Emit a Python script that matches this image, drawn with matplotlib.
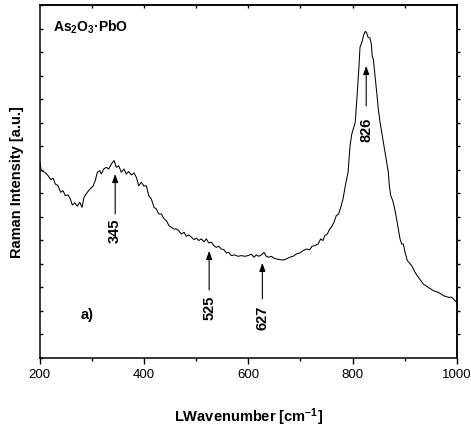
import matplotlib
matplotlib.use("Agg")
import matplotlib.pyplot as plt
from matplotlib.ticker import MultipleLocator, NullFormatter

plt.rcParams["font.family"] = ["Liberation Sans", "DejaVu Sans"]
plt.rcParams["mathtext.fontset"] = "custom"
plt.rcParams["mathtext.rm"] = "Liberation Sans:bold"
plt.rcParams["mathtext.bf"] = "Liberation Sans:bold"
plt.rcParams["mathtext.default"] = "bf"

# Raman spectrum of As2O3·PbO glass (wavenumber in cm^-1, intensity in a.u.)
wavenumber = [200.4, 203.4, 210.0, 216.3, 221.5, 225.9, 230.3, 235.4, 240.6, 245.0,
              249.4, 254.6, 259.0, 262.9, 267.5, 272.4, 277.0, 281.4, 285.3, 291.6,
              298.1, 302.5, 306.9, 310.8, 315.4, 318.4, 323.0, 328.0, 332.6, 337.6,
              342.8, 347.2, 351.8, 356.7, 361.9, 366.3, 370.9, 375.9, 381.1, 385.5,
              390.1, 395.1, 400.2, 404.7, 409.2, 414.2, 419.4, 423.8, 428.4, 433.4,
              438.6, 443.0, 448.1, 452.6, 457.7, 462.1, 466.7, 471.7, 476.9, 481.3,
              485.9, 490.9, 496.1, 500.5, 505.1, 510.0, 515.2, 519.6, 524.2, 529.2,
              534.4, 538.8, 543.4, 548.4, 553.5, 558.0, 562.5, 567.5, 574.0, 580.4,
              586.7, 593.2, 599.5, 605.9, 611.0, 615.4, 620.0, 625.0, 630.2, 634.6,
              639.2, 644.2, 649.3, 653.8, 660.3, 666.6, 672.9, 679.4, 685.8, 692.1,
              698.6, 704.9, 711.3, 717.8, 722.2, 727.3, 733.7, 738.8, 743.2, 746.5,
              751.5, 756.1, 759.1, 764.3, 768.7, 773.3, 777.2, 781.6, 786.0, 791.2,
              795.0, 798.2, 801.3, 805.0, 809.0, 812.2, 814.1, 818.0, 821.2, 824.3,
              827.0, 829.5, 833.3, 835.8, 837.7, 839.6, 842.9, 846.1, 849.2, 852.5,
              855.7, 858.8, 862.0, 865.3, 868.4, 870.3, 873.0, 876.8, 879.3, 883.1,
              887.5, 890.8, 894.0, 897.1, 900.4, 904.8, 913.2, 919.5, 925.9, 935.4,
              945.0, 954.6, 964.2, 973.8, 983.3, 989.9, 998.1, 1000.0]
intensity = [8.32, 7.96, 7.89, 7.75, 7.58, 7.64, 7.39, 7.32, 7.04, 7.11,
             6.90, 6.93, 6.76, 6.50, 6.59, 6.45, 6.62, 6.40, 6.83, 7.04,
             7.21, 7.30, 7.54, 7.89, 7.96, 7.82, 8.03, 8.10, 8.03, 8.24,
             8.39, 8.10, 8.17, 7.89, 8.03, 7.82, 7.92, 7.78, 7.86, 7.68,
             7.32, 7.47, 7.30, 7.32, 6.90, 6.76, 6.40, 6.33, 6.12, 6.12,
             5.91, 5.84, 5.62, 5.55, 5.48, 5.48, 5.41, 5.27, 5.34, 5.17,
             5.23, 5.13, 5.03, 5.09, 4.99, 5.06, 4.94, 5.06, 4.89, 4.92,
             4.77, 4.70, 4.75, 4.63, 4.60, 4.46, 4.49, 4.35, 4.38, 4.32,
             4.35, 4.32, 4.35, 4.41, 4.28, 4.38, 4.32, 4.38, 4.49, 4.32,
             4.28, 4.32, 4.24, 4.21, 4.18, 4.16, 4.21, 4.28, 4.32, 4.42,
             4.46, 4.56, 4.63, 4.60, 4.75, 4.77, 4.84, 5.06, 4.99, 5.20,
             5.27, 5.48, 5.55, 5.77, 6.05, 6.12, 6.40, 6.76, 7.32, 7.89,
             9.00, 9.50, 9.73, 10.02, 11.29, 12.42, 13.20, 13.44, 13.73, 13.88,
             13.81, 13.63, 13.59, 13.34, 12.78, 12.71, 12.00, 11.29, 10.58, 10.02,
             9.59, 9.17, 8.74, 8.32, 7.89, 7.32, 6.90, 6.69, 6.47, 6.05,
             5.48, 5.06, 4.84, 4.84, 4.49, 4.14, 3.92, 3.64, 3.43, 3.14,
             3.00, 2.86, 2.79, 2.65, 2.58, 2.58, 2.39, 2.35]

# Assigned band positions with arrow tip / tail heights and label centre heights
band_pos = [345, 525, 627, 826]
arrow_tip = [7.82, 4.55, 4.04, 12.41]
arrow_tail = [6.12, 2.89, 2.51, 10.71]
label_y = [5.44, 2.17, 1.74, 9.73]

xticks = [200, 400, 600, 800, 1000]

fig = plt.figure(figsize=(4.71, 4.27), dpi=100)
ax = fig.add_axes([0.0839, 0.1593, 0.8864, 0.8267])

ax.plot(wavenumber, intensity, color="black", lw=0.75)

for x, tip, tail, ly in zip(band_pos, arrow_tip, arrow_tail, label_y):
    ax.annotate("", xy=(x, tip), xytext=(x, tail),
                arrowprops=dict(arrowstyle="-|>,head_length=0.5,head_width=0.18",
                                color="black", lw=0.8, shrinkA=0, shrinkB=0))
    ax.text(x, ly, str(x), rotation=90, ha="center", va="center",
            fontsize=10.5, fontweight="bold")

ax.text(291, 1.87, "a)", ha="center", va="center", fontsize=10.5, fontweight="bold")
ax.text(0.032, 0.94, r"As$_2$O$_3$·PbO", transform=ax.transAxes, ha="left",
        va="center", fontsize=10, fontweight="bold")

ax.set_xlim(200, 1000)
ax.set_ylim(0, 15)
ax.set_xticks(xticks)
ax.xaxis.set_minor_locator(MultipleLocator(100))
ax.yaxis.set_major_locator(MultipleLocator(1))
ax.yaxis.set_major_formatter(NullFormatter())

ax.tick_params(axis="x", which="major", direction="out", length=4.5, width=1,
               labelsize=9.5, pad=3)
ax.tick_params(axis="x", which="minor", direction="out", length=2.5, width=1)
ax.tick_params(axis="y", which="major", direction="in", length=2, width=1)

for s in ax.spines.values():
    s.set_linewidth(1.1)

top = ax.secondary_xaxis("top")
top.set_xticks([300, 400, 500, 600, 700, 800, 900])
top.xaxis.set_major_formatter(NullFormatter())
top.tick_params(direction="in", length=2, width=1)
top.spines["top"].set_linewidth(1.1)

right = ax.secondary_yaxis("right")
right.set_yticks(range(1, 15))
right.yaxis.set_major_formatter(NullFormatter())
right.tick_params(direction="out", length=2, width=1)
right.spines["right"].set_linewidth(1.1)

ax.set_xlabel(r"LWavenumber [cm$^{-1}$]", fontsize=10.5, fontweight="bold", labelpad=18)
ax.set_ylabel("Raman Intensity [a.u.]", fontsize=10.5, fontweight="bold", labelpad=8)

fig.savefig("out.png", dpi=100)
